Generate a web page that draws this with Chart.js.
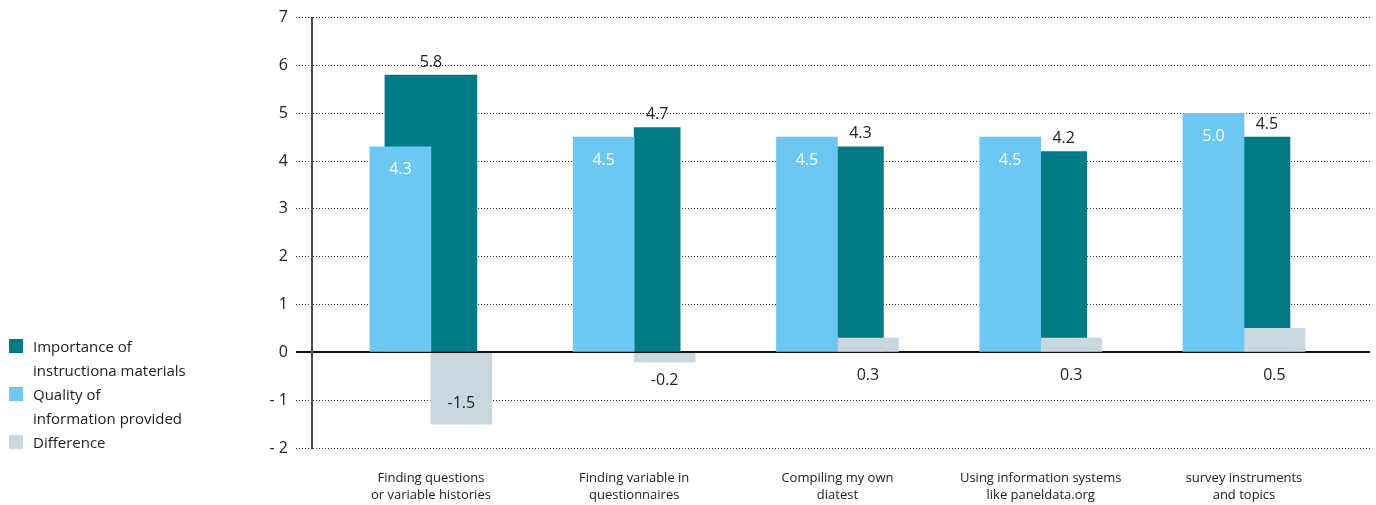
<!DOCTYPE html>
<html>
<head>
<meta charset="utf-8">
<script src="https://cdn.jsdelivr.net/npm/chart.js@4.4.1/dist/chart.umd.min.js"></script>
<style>
  html, body { margin: 0; padding: 0; background: #fff; }
  #wrap { position: relative; width: 1376px; height: 505px; }
  #chart { position: absolute; left: 0; top: 0; }
  #legend { position: absolute; left: 9px; top: 334px; font: 15px "Open Sans", sans-serif; color: #222; line-height: 24px; }
  .item { display: flex; align-items: flex-start; }
  .swatch { width: 14px; height: 14px; margin-top: 5px; margin-right: 10px; flex: none; }
</style>
</head>
<body>
<div id="wrap">
  <canvas id="chart" width="1376" height="505"></canvas>
  <div id="legend"></div>
</div>
<script>
// Categories (multi-line axis labels)
const categories = [
  ['Finding questions', 'or variable histories'],
  ['Finding variable in', 'questionnaires'],
  ['Compiling my own', 'diatest'],
  ['Using information systems', 'like paneldata.org'],
  ['survey instruments', 'and topics']
];

// Series values
const importance = [5.8, 4.7, 4.3, 4.2, 4.5];
const quality    = [4.3, 4.5, 4.5, 4.5, 5.0];
const difference = [-1.5, -0.2, 0.3, 0.3, 0.5];

// Value axis ticks
const yTicks = [-2, -1, 0, 1, 2, 3, 4, 5, 6, 7];

// Legend entries (lines of text per entry)
const legendNames = [
  ['Importance of', 'instructiona materials'],
  ['Quality of', 'information provided'],
  ['Difference']
];

const TEAL = '#007A84';
const SKY = '#6CC8F2';
const GREY = '#C9D8DF';

// Bar offsets from category centre, in category units
const QUALITY_SHIFT = -0.15;
const DIFF_SHIFT = 0.15;
const IMPORTANCE_SHIFT = 0.113;

const pts = (arr, shift, keep) => arr
  .map((v, i) => ({ x: i + shift, y: v, i }))
  .filter(p => keep(p.i));

const datasets = [
  {
    label: legendNames[1].join(' '),
    data: pts(quality, QUALITY_SHIFT, () => true),
    backgroundColor: SKY, barThickness: 61, grouped: false, order: 0, labelStyle: 'inside'
  },
  {
    label: legendNames[2].join(' '),
    data: pts(difference, DIFF_SHIFT, () => true),
    backgroundColor: GREY, barThickness: 61, grouped: false, order: 0, labelStyle: 'diff'
  },
  {
    // the first category's importance bar is drawn wide and centred
    label: legendNames[0].join(' '),
    data: pts(importance, 0, i => i === 0),
    backgroundColor: TEAL, barThickness: 92, grouped: false, order: 1, labelStyle: 'above'
  },
  {
    label: legendNames[0].join(' '),
    data: pts(importance, IMPORTANCE_SHIFT, i => i !== 0),
    backgroundColor: TEAL, barThickness: 46, grouped: false, order: 1, labelStyle: 'above'
  }
];

// Value labels on the bars
const valueLabels = {
  id: 'valueLabels',
  afterDatasetsDraw(chart) {
    const ctx = chart.ctx;
    ctx.save();
    ctx.font = '16px "Open Sans", sans-serif';
    ctx.textAlign = 'center';
    ctx.textBaseline = 'middle';
    chart.data.datasets.forEach((ds, di) => {
      const meta = chart.getDatasetMeta(di);
      meta.data.forEach((bar, j) => {
        const v = ds.data[j].y;
        const txt = v.toFixed(1);
        let y;
        if (ds.labelStyle === 'inside') {
          ctx.fillStyle = '#fff';
          y = bar.y + 23;
        } else if (ds.labelStyle === 'above') {
          ctx.fillStyle = '#222';
          y = bar.y - 13;
        } else {
          ctx.fillStyle = '#222';
          if (v >= 0) y = bar.base + 24;
          else if (bar.y - bar.base > 40) y = bar.y - 21;
          else y = bar.y + 19;
        }
        ctx.fillText(txt, bar.x, y);
      });
    });
    ctx.restore();
  }
};

Chart.defaults.font.family = '"Open Sans", sans-serif';
Chart.defaults.color = '#222';

new Chart(document.getElementById('chart'), {
  type: 'bar',
  data: { datasets },
  plugins: [valueLabels],
  options: {
    responsive: false,
    animation: false,
    devicePixelRatio: 1,
    layout: { padding: { top: 17, right: 6, bottom: 0, left: 0 } },
    plugins: { legend: { display: false }, tooltip: { enabled: false } },
    scales: {
      x: {
        type: 'linear',
        offset: false,
        min: -0.585,
        max: 4.62,
        grid: { display: false, drawTicks: false, offset: false },
        border: { display: false },
        afterBuildTicks: s => { s.ticks = categories.map((_, i) => ({ value: i })); },
        afterFit: s => { s.height = 57; },
        ticks: {
          autoSkip: false,
          maxRotation: 0,
          padding: 22,
          font: { size: 13, lineHeight: 1.3 },
          callback: v => categories[v]
        }
      },
      y: {
        min: yTicks[0],
        max: yTicks[yTicks.length - 1],
        afterBuildTicks: s => { s.ticks = yTicks.map(v => ({ value: v })); },
        afterFit: s => { s.width = 312; },
        ticks: {
          padding: 8,
          font: { size: 16 },
          callback: v => (v < 0 ? '- ' + Math.abs(v) : String(v))
        },
        grid: {
          tickLength: 16,
          color: c => (c.tick && c.tick.value === 0 ? '#111' : '#333'),
          tickColor: c => (c.tick && c.tick.value === 0 ? '#111' : '#333'),
          lineWidth: c => (c.tick && c.tick.value === 0 ? 2 : 1),
          tickWidth: c => (c.tick && c.tick.value === 0 ? 2 : 1),
          tickBorderDash: c => (c.tick && c.tick.value === 0 ? [] : [1, 2])
        },
        border: {
          display: true,
          color: '#4a4a4a',
          width: 2,
          dash: c => (c.tick && c.tick.value === 0 ? [] : [1, 2])
        }
      }
    }
  }
});

// HTML legend
const legendColors = [TEAL, SKY, GREY];
const legendEl = document.getElementById('legend');
legendNames.forEach((lines, k) => {
  const item = document.createElement('div');
  item.className = 'item';
  const sw = document.createElement('span');
  sw.className = 'swatch';
  sw.style.background = legendColors[k];
  const txt = document.createElement('span');
  txt.innerHTML = lines.join('<br>');
  item.appendChild(sw);
  item.appendChild(txt);
  legendEl.appendChild(item);
});
</script>
</body>
</html>
